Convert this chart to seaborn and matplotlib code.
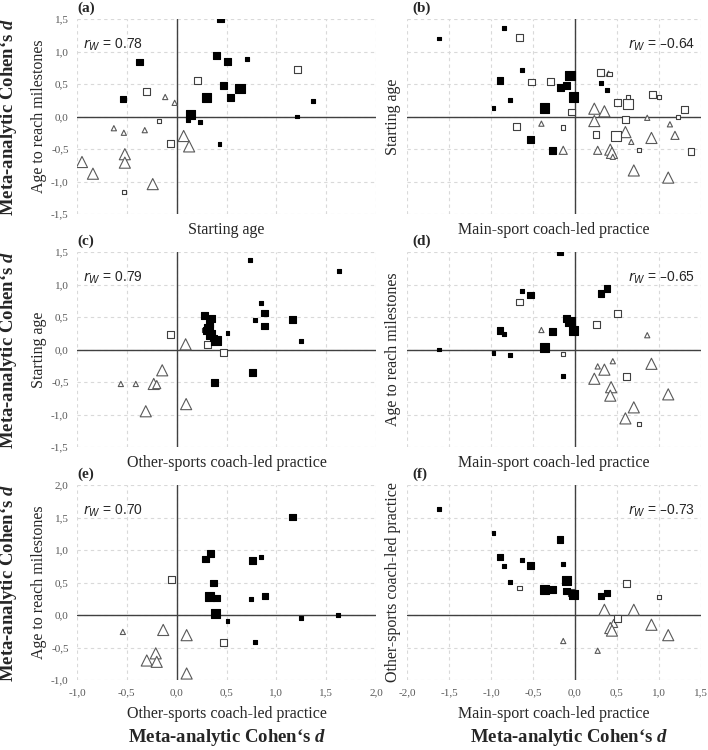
import pandas as pd
import matplotlib.pyplot as plt
import seaborn as sns
from matplotlib.ticker import MultipleLocator, FuncFormatter

# marker kinds: F = filled square, O = open square, T = open triangle
# size codes: 1 small, 2 medium, 3 large

# (a) Starting age vs Age to reach milestones
a_x = [0.44, 0.40, 0.51, 0.71, -0.375, 0.47, 0.635, 0.30, 0.54, -0.54, 1.365, 0.135, 0.115, 0.23, 1.21, 0.43,
       1.21, 0.21, -0.30, -0.18, -0.06, -0.53,
       -0.115, -0.02, -0.63, -0.53, -0.32, 0.07, 0.125, -0.52, -0.52, -0.95, -0.84, -0.24]
a_y = [1.50, 0.94, 0.85, 0.89, 0.84, 0.48, 0.43, 0.29, 0.29, 0.27, 0.24, 0.03, -0.05, -0.09, 0.00, -0.42,
       0.72, 0.55, 0.38, -0.07, -0.42, -1.16,
       0.30, 0.21, -0.18, -0.25, -0.21, -0.30, -0.46, -0.58, -0.71, -0.70, -0.88, -1.04]
a_kind = list("FFFFFFFFFFFFFFFF" "OOOOOO" "TTTTTTTTTTTT")
a_size = [2, 2, 2, 1, 2, 2, 3, 3, 2, 2, 1, 3, 1, 1, 1, 1,
          2, 2, 2, 1, 2, 1,
          1, 1, 1, 1, 1, 3, 3, 3, 3, 3, 3, 3]

# (b) Main-sport coach-led practice vs Starting age
b_x = [-1.62, -0.85, -0.63, -0.89, -0.06, -0.17, -0.10, -0.02, 0.31, 0.38, -0.77, -0.97, -0.36, -0.53, -0.27,
       -0.66, 0.30, 0.41, -0.52, -0.29, -0.04, 0.51, 0.63, 0.63, 0.92, 1.00, 1.30, 1.23, 0.60, -0.70, -0.14, 0.25,
       0.49, 0.76, 1.38,
       0.40, 0.23, 0.35, 0.23, -0.40, 0.86, 1.13, 0.60, 0.67, 0.91, 1.19, -0.14, 0.27, 0.42, 0.44, 0.45, 0.70, 1.11]
b_y = [1.20, 1.36, 0.71, 0.55, 0.63, 0.45, 0.48, 0.30, 0.52, 0.41, 0.25, 0.13, 0.13, -0.35, -0.52,
       1.21, 0.68, 0.65, 0.53, 0.54, 0.07, 0.22, 0.19, 0.30, 0.34, 0.30, 0.11, -0.01, -0.05, -0.16, -0.17, -0.28,
       -0.30, -0.51, -0.54,
       0.66, 0.12, 0.08, -0.07, -0.11, -0.02, -0.12, -0.24, -0.39, -0.33, -0.29, -0.52, -0.52, -0.51, -0.56, -0.62,
       -0.83, -0.94]
b_kind = list("FFFFFFFFFFFFFFF" "OOOOOOOOOOOOOOOOOOOO" "TTTTTTTTTTTTTTTTTT")
b_size = [1, 1, 1, 2, 3, 2, 2, 3, 1, 1, 1, 1, 3, 2, 2,
          2, 2, 1, 2, 2, 2, 2, 3, 1, 2, 1, 2, 1, 2, 2, 1, 2, 3, 1, 2,
          1, 3, 3, 3, 1, 1, 1, 3, 1, 3, 2, 2, 2, 3, 3, 1, 3, 3]

# (c) Other-sports coach-led practice vs Starting age
c_x = [0.74, 1.63, 0.85, 0.88, 0.79, 0.88, 1.16, 1.25, 0.51, 0.28, 0.355, 0.33, 0.32, 0.34, 0.30, 0.395, 0.37,
       0.76, 0.38,
       -0.06, 0.31, 0.28, 0.47,
       0.09, -0.145, -0.56, -0.41, -0.23, -0.20, -0.31, 0.095]
c_y = [1.37, 1.21, 0.72, 0.56, 0.45, 0.36, 0.46, 0.13, 0.25, 0.52, 0.48, 0.40, 0.32, 0.23, 0.29, 0.14, 0.18,
       -0.35, -0.51,
       0.23, 0.08, 0.30, -0.05,
       0.08, -0.32, -0.53, -0.53, -0.53, -0.54, -0.95, -0.84]
c_kind = list("FFFFFFFFFFFFFFFFFFF" "OOOO" "TTTTTTTT")
c_size = [1, 1, 1, 2, 1, 2, 2, 1, 1, 2, 2, 2, 3, 3, 2, 3, 2, 2, 2,
          2, 2, 1, 2,
          3, 3, 1, 1, 3, 2, 3, 3]

# (d) Main-sport coach-led practice vs Age to reach milestones
d_x = [-0.18, -0.63, -0.53, 0.31, 0.38, -0.10, -0.06, -0.02, -0.89, -0.85, -0.27, -0.36, -1.62, -0.97, -0.77, -0.14,
       -0.66, 0.51, 0.26, -0.14, 0.61, 0.76,
       -0.40, 0.86, 0.45, 0.27, 0.35, 0.91, 0.23, 0.43, 0.42, 0.70, 0.60, 1.11]
d_y = [1.51, 0.90, 0.84, 0.86, 0.94, 0.48, 0.43, 0.29, 0.29, 0.24, 0.28, 0.03, 0.00, -0.06, -0.09, -0.41,
       0.73, 0.55, 0.38, -0.07, -0.41, -1.15,
       0.30, 0.22, -0.18, -0.26, -0.31, -0.22, -0.45, -0.58, -0.71, -0.89, -1.06, -0.69]
d_kind = list("FFFFFFFFFFFFFFFF" "OOOOOO" "TTTTTTTTTTTT")
d_size = [2, 1, 2, 2, 2, 2, 3, 3, 2, 1, 2, 3, 1, 1, 1, 1,
          2, 2, 2, 1, 2, 1,
          1, 1, 1, 1, 3, 3, 3, 3, 3, 3, 3, 3]

# (e) Other-sports coach-led practice vs Age to reach milestones
e_x = [1.16, 0.34, 0.29, 0.76, 0.85, 0.37, 0.33, 0.40, 0.885, 0.75, 0.39, 0.51, 1.25, 1.62, 0.79,
       -0.05, 0.47,
       -0.54, -0.135, 0.10, -0.21, -0.30, -0.20, 0.10]
e_y = [1.51, 0.95, 0.86, 0.84, 0.89, 0.49, 0.29, 0.26, 0.29, 0.24, 0.02, -0.09, -0.05, 0.00, -0.42,
       0.55, -0.42,
       -0.26, -0.23, -0.31, -0.59, -0.70, -0.72, -0.90]
e_kind = list("FFFFFFFFFFFFFFF" "OO" "TTTTTTT")
e_size = [2, 2, 2, 2, 1, 2, 3, 2, 2, 1, 3, 1, 1, 1, 1,
          2, 2,
          1, 3, 3, 3, 3, 3, 3]

# (f) Main-sport coach-led practice vs Other-sports coach-led practice
f_x = [-1.62, -0.97, -0.89, -0.85, -0.63, -0.53, -0.18, -0.14, -0.77, -0.10, -0.36, -0.27, -0.10, -0.02, 0.31, 0.38,
       -0.66, -0.04, 0.61, 1.00, 0.51,
       0.35, 0.70, 0.46, 0.42, 0.44, 0.91, 1.11, -0.14, 0.27]
f_y = [1.63, 1.26, 0.89, 0.75, 0.85, 0.76, 1.16, 0.79, 0.51, 0.53, 0.39, 0.39, 0.37, 0.31, 0.29, 0.34,
       0.41, 0.34, 0.48, 0.28, -0.05,
       0.08, 0.08, -0.13, -0.20, -0.24, -0.15, -0.31, -0.40, -0.55]
f_kind = list("FFFFFFFFFFFFFFFF" "OOOOO" "TTTTTTTTT")
f_size = [1, 1, 2, 1, 1, 2, 2, 1, 1, 3, 3, 2, 2, 3, 2, 2,
          1, 2, 2, 1, 2,
          3, 3, 2, 3, 3, 3, 3, 1, 1]

panel_labels = ["(a)", "(b)", "(c)", "(d)", "(e)", "(f)"]
x_titles = ["Starting age", "Main-sport coach-led practice",
            "Other-sports coach-led practice", "Main-sport coach-led practice",
            "Other-sports coach-led practice", "Main-sport coach-led practice"]
y_titles = ["Age to reach milestones", "Starting age",
            "Starting age", "Age to reach milestones",
            "Age to reach milestones", "Other-sports coach-led practice"]
r_text = ["0.78", "\u20130.64", "0.79", "\u20130.65", "0.70", "\u20130.73"]

sns.set_style("white")
plt.rcParams["mathtext.fontset"] = "custom"
plt.rcParams["mathtext.it"] = "Liberation Serif:italic:bold"
plt.rcParams["mathtext.rm"] = "Liberation Serif:bold"

SERIF = "Liberation Serif"
SANS = "Liberation Sans"
W, H = 708, 750

fig = plt.figure(figsize=(7.08, 7.5), dpi=100)

# pixel boxes of the plot areas
cols = [(77, 376), (407, 701)]
rows = [(19, 214), (252, 447), (485, 680)]

marker_styles = {
    "T": dict(marker="^", color="white", edgecolor="#595959", sizes={1: 14, 2: 34, 3: 64}),
    "O": dict(marker="s", color="white", edgecolor="#404040", sizes={1: 9, 2: 24, 3: 46}),
    "F": dict(marker="s", color="black", edgecolor="black", sizes={1: 8, 2: 22, 3: 44}),
}

data = [(a_x, a_y, a_kind, a_size), (b_x, b_y, b_kind, b_size),
        (c_x, c_y, c_kind, c_size), (d_x, d_y, d_kind, d_size),
        (e_x, e_y, e_kind, e_size), (f_x, f_y, f_kind, f_size)]

fmt = FuncFormatter(lambda v, p: f"{v:.1f}".replace(".", ","))

for i, (xs, ys, kinds, sizes) in enumerate(data):
    r, c = divmod(i, 2)
    x0, x1 = cols[c]
    y0, y1 = rows[r]
    ax = fig.add_axes([x0 / W, 1 - y1 / H, (x1 - x0) / W, (y1 - y0) / H])

    df = pd.DataFrame({"x": xs, "y": ys, "kind": kinds, "w": sizes})
    for k, st in marker_styles.items():
        sub = df[df["kind"] == k]
        sns.scatterplot(data=sub, x="x", y="y", size="w", sizes=st["sizes"],
                        marker=st["marker"], color=st["color"], edgecolor=st["edgecolor"],
                        linewidth=0.8, legend=False, ax=ax, zorder=3)

    ax.set_xlim((-1, 2) if c == 0 else (-2, 1.5))
    ax.set_ylim((-1.5, 1.5) if r < 2 else (-1, 2))
    ax.xaxis.set_major_locator(MultipleLocator(0.5))
    ax.yaxis.set_major_locator(MultipleLocator(0.5))
    ax.xaxis.set_major_formatter(fmt)
    ax.yaxis.set_major_formatter(fmt)
    ax.grid(True, linestyle=(0, (3, 3)), color="#d9d9d9", linewidth=0.8)
    for sp in ax.spines.values():
        sp.set_visible(False)
    ax.axhline(0, color="#404040", linewidth=1, zorder=2)
    ax.axvline(0, color="#404040", linewidth=1, zorder=2)
    ax.tick_params(length=0, labelsize=8, labelcolor="#595959", pad=6,
                   labelbottom=(r == 2), labelleft=(c == 0))
    for t in ax.get_xticklabels() + ax.get_yticklabels():
        t.set_fontfamily(SERIF)

    ax.set_xlabel(x_titles[i], fontfamily=SERIF, fontsize=11.5)
    ax.set_ylabel(y_titles[i], fontfamily=SERIF, fontsize=11.5)
    ax.xaxis.set_label_coords(0.5, -0.135 if r == 2 else -0.042)
    ax.yaxis.set_label_coords(-0.10 if c == 0 else -0.02, 0.5)

    # weighted correlation
    if c == 0:
        ax.text(0.02, 0.87, r"$r_W$ = " + r_text[i], transform=ax.transAxes, ha="left", va="center",
                fontsize=10, fontfamily=SANS, math_fontfamily="dejavusans", color="#262626")
    else:
        ax.text(0.98, 0.87, r"$r_W$ = " + r_text[i], transform=ax.transAxes, ha="right", va="center",
                fontsize=10, fontfamily=SANS, math_fontfamily="dejavusans", color="#262626")

    fig.text((x0 + (0 if c == 0 else 5)) / W, 1 - (y0 - 17) / H, panel_labels[i],
             fontfamily=SERIF, fontweight="bold", fontsize=11, va="top", ha="left")

big = "Meta-analytic Cohen\u2018s $d$"
for r in range(3):
    yc = (rows[r][0] + rows[r][1]) / 2
    fig.text(9 / W, 1 - yc / H, big, rotation=90, ha="center", va="center",
             fontfamily=SERIF, fontweight="bold", fontsize=13.5)
fig.text(227 / W, 1 - 738 / H, big, ha="center", va="center", fontfamily=SERIF, fontweight="bold", fontsize=13.5)
fig.text(569 / W, 1 - 738 / H, big, ha="center", va="center", fontfamily=SERIF, fontweight="bold", fontsize=13.5)

fig.savefig("out.png", dpi=100)
